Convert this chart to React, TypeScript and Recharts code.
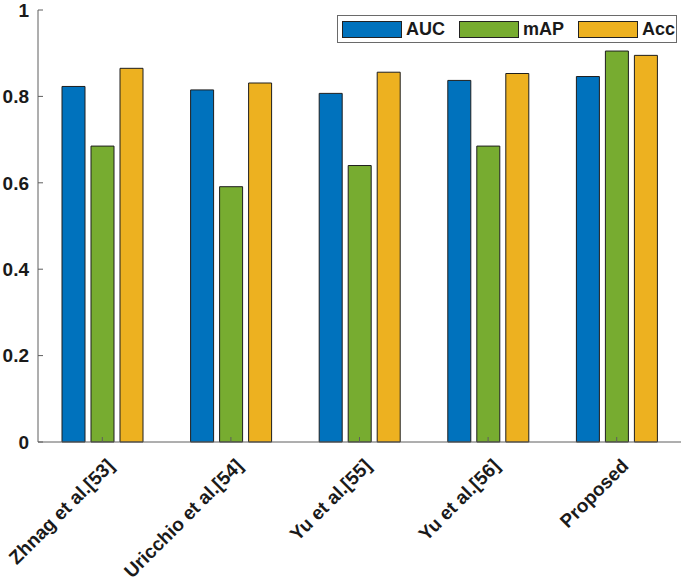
import React from 'react';
import { BarChart, Bar, XAxis, YAxis, Legend } from 'recharts';

const categories = ['Zhnag et al.[53]', 'Uricchio et al.[54]', 'Yu et al.[55]', 'Yu et al.[56]', 'Proposed'];
const aucValues = [0.823, 0.815, 0.807, 0.837, 0.846];
const mapValues = [0.685, 0.591, 0.64, 0.685, 0.905];
const accValues = [0.865, 0.831, 0.856, 0.853, 0.895];
const yTicks = [0, 0.2, 0.4, 0.6, 0.8, 1];
const yTickLabels = ['0', '0.2', '0.4', '0.6', '0.8', '1'];
const topTicks = [1, 2, 3, 4, 5];

const seriesNames = ['AUC', 'mAP', 'Acc'];
const seriesColors = ['#0072BD', '#77AC30', '#EDB120'];

const data = categories.map((name, i) => ({
  name,
  AUC: aucValues[i],
  mAP: mapValues[i],
  Acc: accValues[i],
}));

const FONT = '"Liberation Sans", Arial, Helvetica, sans-serif';
const AXIS_COLOR = '#5e5e5e';
const TICK_LEN = 5;

const LeftTick = (props: any) => {
  const { x, y, payload } = props;
  const idx = yTicks.indexOf(payload.value);
  const label = idx >= 0 ? yTickLabels[idx] : String(payload.value);
  return (
    <g>
      <line x1={x} y1={y} x2={x + TICK_LEN} y2={y} stroke={AXIS_COLOR} strokeWidth={1} />
      <text x={x - 9} y={y} dy="0.36em" textAnchor="end" fontFamily={FONT} fontWeight="bold" fontSize={19} fill="#1a1a1a">
        {label}
      </text>
    </g>
  );
};

const RightTick = (props: any) => {
  const { x, y } = props;
  return <line x1={x} y1={y} x2={x - TICK_LEN} y2={y} stroke={AXIS_COLOR} strokeWidth={1} />;
};

const TopTick = (props: any) => {
  const { x, y } = props;
  return <line x1={x} y1={y} x2={x} y2={y + TICK_LEN} stroke={AXIS_COLOR} strokeWidth={1} />;
};

const BottomTick = (props: any) => {
  const { x, y, payload } = props;
  const tx = x + 13;
  const ty = y + 25;
  return (
    <g>
      <line x1={x} y1={y} x2={x} y2={y - TICK_LEN} stroke={AXIS_COLOR} strokeWidth={1} />
      <text
        x={tx}
        y={ty}
        textAnchor="end"
        transform={`rotate(-45 ${tx} ${ty})`}
        fontFamily={FONT}
        fontWeight="bold"
        fontSize={19}
        fill="#1a1a1a"
      >
        {payload.value}
      </text>
    </g>
  );
};

const renderLegend = (props: any) => {
  const payload = [...(props.payload || [])].sort(
    (a: any, b: any) => seriesNames.indexOf(a.value) - seriesNames.indexOf(b.value)
  );
  return (
    <div
      style={{
        boxSizing: 'border-box',
        width: 340,
        height: 28,
        border: '1px solid #6a6a6a',
        background: '#fff',
        display: 'flex',
        alignItems: 'center',
        paddingLeft: 4,
        fontFamily: FONT,
        fontWeight: 'bold',
        fontSize: 18,
        color: '#1a1a1a',
      }}
    >
      {payload.map((entry: any, i: number) => (
        <div key={i} style={{ display: 'flex', alignItems: 'center', marginRight: 14 }}>
          <div
            style={{
              boxSizing: 'border-box',
              width: 60,
              height: 17,
              background: entry.color,
              border: '1px solid #222',
              marginRight: 4,
            }}
          />
          <span>{entry.value}</span>
        </div>
      ))}
    </div>
  );
};

export default function App() {
  return (
    <div style={{ position: 'absolute', left: 0, top: 0, background: '#fff' }}>
      <BarChart
        width={685}
        height={582}
        data={data}
        margin={{ top: 10, right: 4, left: 0, bottom: 0 }}
        barCategoryGap={24}
        barGap={6}
      >
        <XAxis
          dataKey="name"
          xAxisId="bottom"
          interval={0}
          tickSize={0}
          tickMargin={0}
          tickLine={false}
          axisLine={{ stroke: AXIS_COLOR, strokeWidth: 1 }}
          tick={<BottomTick />}
          height={140}
        />
        <XAxis
          xAxisId="top"
          orientation="top"
          type="number"
          domain={[0.5, 5.5]}
          ticks={topTicks}
          allowDataOverflow
          interval={0}
          height={0}
          tickSize={0}
          tickMargin={0}
          tickLine={false}
          axisLine={{ stroke: AXIS_COLOR, strokeWidth: 1 }}
          tick={<TopTick />}
        />
        <YAxis
          yAxisId="left"
          domain={[0, 1]}
          ticks={yTicks}
          interval={0}
          width={38}
          tickSize={0}
          tickMargin={0}
          tickLine={false}
          axisLine={{ stroke: AXIS_COLOR, strokeWidth: 1 }}
          tick={<LeftTick />}
        />
        <YAxis
          yAxisId="right"
          orientation="right"
          domain={[0, 1]}
          ticks={yTicks}
          allowDataOverflow
          interval={0}
          width={0}
          tickSize={0}
          tickMargin={0}
          tickLine={false}
          axisLine={{ stroke: AXIS_COLOR, strokeWidth: 1 }}
          tick={<RightTick />}
        />
        <Legend
          layout="horizontal"
          verticalAlign="middle"
          align="center"
          wrapperStyle={{ top: 15, left: 337, width: 340, height: 28 }}
          content={renderLegend}
        />
        {seriesNames.map((s, i) => (
          <Bar
            key={s}
            dataKey={s}
            name={s}
            xAxisId="bottom"
            yAxisId="left"
            fill={seriesColors[i]}
            stroke="#1e1e1e"
            strokeWidth={1}
            isAnimationActive={false}
          />
        ))}
      </BarChart>
    </div>
  );
}
